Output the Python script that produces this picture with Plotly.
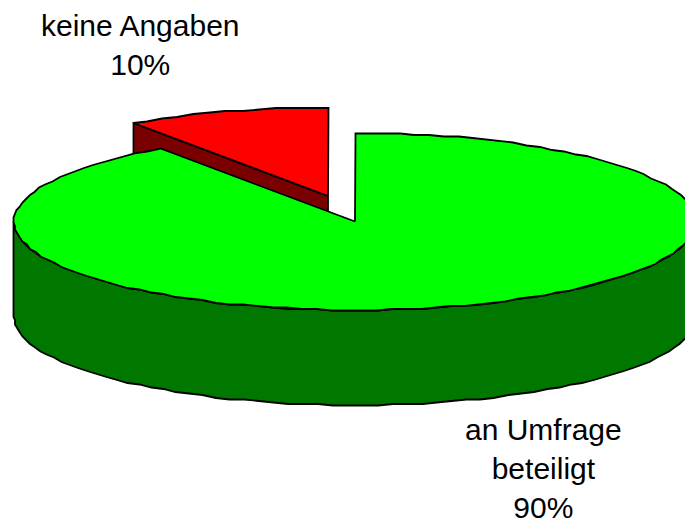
import numpy as np
import plotly.graph_objects as go

categories = ["an Umfrage<br>beteiligt", "keine Angaben"]
values = [90.3, 9.7]
top_colors = ["#00ff00", "#ff0000"]
side_colors = ["#007800", "#7a0000"]

CX, CY = 355, 221.5
RX, RY = 341, 88.5
DEPTH = 95
EXPLODE_X, EXPLODE_Y = -27, -25.5
GRID = 1.5
LINE = dict(color="black", width=1.8)


def rim(t_from, t_to, cx, cy, dy=0):
    n = max(3, int(abs(t_to - t_from) / 2.5))
    t = np.radians(np.linspace(t_from, t_to, n))
    x = np.round((cx + RX * np.sin(t)) / GRID) * GRID
    y = np.round((cy - RY * np.cos(t)) / GRID) * GRID + dy
    return list(x), list(y)


sweep = 360 * values[0] / sum(values)
fig = go.Figure()


def poly(x, y, color):
    fig.add_trace(go.Scatter(x=x + x[:1], y=y + y[:1], mode="lines", fill="toself",
                             fillcolor=color, line=LINE, hoverinfo="skip", showlegend=False))


# exploded small slice: cut wall, then top
rcx, rcy = CX + EXPLODE_X, CY + EXPLODE_Y
ax, ay = rim(sweep, 360, rcx, rcy)
poly([rcx, ax[0], ax[0], rcx], [rcy, ay[0], ay[0] + DEPTH, rcy + DEPTH], side_colors[1])
poly([rcx] + ax, [rcy] + ay, top_colors[1])

# large slice: front wall, then top
wx, wy = rim(90, 270, CX, CY)
bx, by = rim(270, 90, CX, CY, DEPTH)
poly(wx + bx, wy + by, side_colors[0])
gx, gy = rim(0, sweep, CX, CY)
poly([CX] + gx, [CY] + gy, top_colors[0])

label_pos = [(543, 468), (140, 44.5)]
for cat, val, (lx, ly) in zip(categories, values, label_pos):
    fig.add_annotation(x=lx, y=ly, text=f"{cat}<br>{round(val / sum(values) * 100)}%",
                       showarrow=False, xanchor="center", yanchor="middle",
                       font=dict(family="Liberation Sans, Arial, sans-serif", size=30, color="black"))

axis = dict(visible=False, fixedrange=True)
fig.update_layout(width=685, height=524, margin=dict(l=0, r=0, t=0, b=0),
                  paper_bgcolor="white", plot_bgcolor="white",
                  xaxis=dict(range=[0, 685], **axis),
                  yaxis=dict(range=[524, 0], **axis))
fig.write_html("out.html", config={"displayModeBar": False},
               post_script="document.body.style.margin='0';document.body.style.overflow='hidden';")
